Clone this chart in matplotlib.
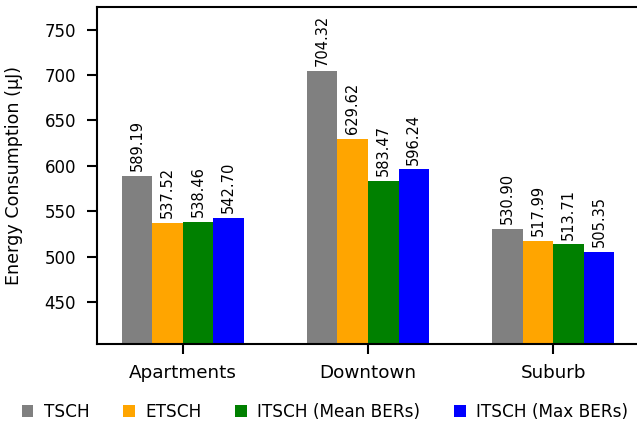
import matplotlib
matplotlib.use("Agg")
import matplotlib.pyplot as plt
import numpy as np

scenarios = ["Apartments", "Downtown", "Suburb"]
series_names = ["TSCH", "ETSCH", "ITSCH (Mean BERs)", "ITSCH (Max BERs)"]
tsch = [589.19, 704.32, 530.90]
etsch = [537.52, 629.62, 517.99]
itsch_mean = [538.46, 583.47, 513.71]
itsch_max = [542.70, 596.24, 505.35]
colors = ["gray", "orange", "green", "blue"]

series = [tsch, etsch, itsch_mean, itsch_max]

fig = plt.figure(figsize=(6.37, 4.24), dpi=100)
ax = fig.add_axes([0.1523, 0.1887, 0.8507, 0.7948])

x = np.arange(len(scenarios))
width = 0.165
offsets = (np.arange(len(series)) - (len(series) - 1) / 2) * width

for vals, name, col, off in zip(series, series_names, colors, offsets):
    bars = ax.bar(x + off, vals, width, color=col, label=name)
    for b, v in zip(bars, vals):
        ax.annotate(f"{v:.2f}", (b.get_x() + b.get_width() / 2, v),
                    xytext=(0, 3.5), textcoords="offset points",
                    rotation=90, ha="center", va="bottom", fontsize=10.5)

all_vals = [v for s in series for v in s]
ax.set_ylim(min(all_vals) * 0.8, max(all_vals) * 1.1)
ax.set_yticks([450, 500, 550, 600, 650, 700, 750])
ax.set_xticks(x)
ax.set_xticklabels(scenarios)
ax.set_ylabel("Energy Consumption (\u03bcJ)", fontsize=12.6)
ax.yaxis.set_label_coords(-0.137, 0.5)
ax.tick_params(axis="y", labelsize=12, width=1.5, length=7, pad=8)
ax.tick_params(axis="x", labelsize=13.2, width=1.5, length=7, pad=7.5)
for sp in ax.spines.values():
    sp.set_linewidth(1.5)

fig.legend(loc="center", bbox_to_anchor=(0.51, 0.028), ncol=4, frameon=False,
           fontsize=12.2, handlelength=0.7, handleheight=0.7,
           handletextpad=0.6, columnspacing=2.0)

fig.savefig("out.png", dpi=100)
